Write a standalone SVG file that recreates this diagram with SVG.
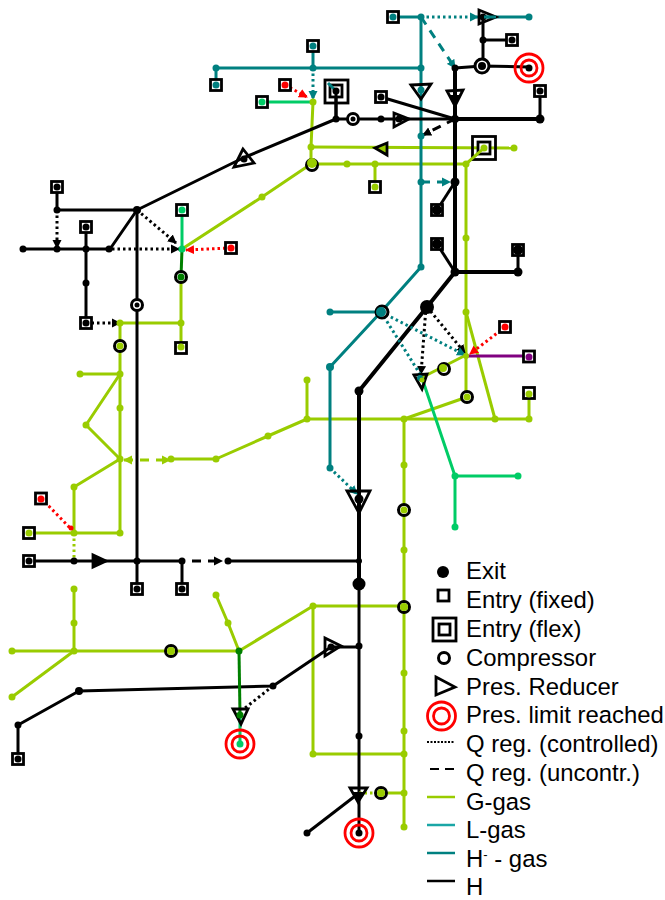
<svg xmlns="http://www.w3.org/2000/svg" width="665" height="900" viewBox="0 0 665 900">
<style>
text{font-family:"Liberation Sans",Arial,sans-serif;font-size:23.9px;fill:#000}
.c{fill:none;stroke-linecap:butt;stroke-linejoin:round}
.g{stroke:#99cc00;stroke-width:3}
.t{stroke:#008080;stroke-width:3}
.e{stroke:#00cc66;stroke-width:3}
.k{stroke:#000;stroke-width:3}
.K{stroke:#000;stroke-width:4}
.d{stroke-width:3;stroke-dasharray:2.5 3}
.s{stroke-width:3;stroke-dasharray:9 7}
.ent{fill:#fff;stroke:#000;stroke-width:2.8}
.cmp{fill:#fff;stroke:#000;stroke-width:3}
.red{fill:none;stroke:#ff0000;stroke-width:2.8}
.tri{fill:none;stroke:#000;stroke-width:2.8;stroke-linejoin:miter}
.nk{fill:#000}.ng{fill:#99cc00}.nt{fill:#008080}.ne{fill:#00cc66}.nr{fill:#ff0000}.nd{fill:#008000}.np{fill:#800080}
</style>
<defs>
<marker id="ak" markerUnits="userSpaceOnUse" markerWidth="10" markerHeight="10" refX="8" refY="5" orient="auto"><path d="M0 0.5L9 5L0 9.5z" fill="#000"/></marker>
<marker id="at" markerUnits="userSpaceOnUse" markerWidth="10" markerHeight="10" refX="8" refY="5" orient="auto"><path d="M0 0.5L9 5L0 9.5z" fill="#008080"/></marker>
<marker id="ar" markerUnits="userSpaceOnUse" markerWidth="10" markerHeight="10" refX="8" refY="5" orient="auto"><path d="M0 0.5L9 5L0 9.5z" fill="#ff0000"/></marker>
<marker id="ag" markerUnits="userSpaceOnUse" markerWidth="10" markerHeight="10" refX="8" refY="5" orient="auto-start-reverse"><path d="M0 0.5L9 5L0 9.5z" fill="#99cc00"/></marker>
</defs>
<g id="connectors">
<g class="c g">
<path d="M313 102L311 147V164"/><path d="M311 147L514 148"/><path d="M311 164H466"/><path d="M375 164V187"/><path d="M466 164L484 148"/>
<path d="M466 164V397"/><path d="M467 397L404 419"/><path d="M466 312L495 419"/><path d="M307 380V419H529V393"/><path d="M307 419L268 436L216 459H171"/>
<path d="M404 419V827"/><path d="M181 277V348"/><path d="M120 323H181"/><path d="M182 249L262 197L311 164"/>
<path d="M120 323V533"/><path d="M80 374H120"/><path d="M120 374L86 425L120 459"/><path d="M120 459L74 487V533"/><path d="M29 533H120"/>
<path d="M74 589V651"/><path d="M12 651H239"/><path d="M74 651L12 697"/><path d="M216 595L228 623L239 651"/><path d="M239 651L313 606H404"/><path d="M313 606V754H404"/>
<path d="M381 793H404"/><path d="M421 378L466 355"/>
</g>
<g class="c t">
<path d="M216 85V68H421"/><path d="M313 46V68"/><path d="M393 17H421"/><path d="M421 17V267L381 312L330 367V468"/><path d="M330 312H381"/><path d="M483 17H529"/>
</g>
<g class="c e">
<path d="M262 102H313"/><path d="M182 210V249"/><path d="M422 378L455 476H518"/><path d="M455 476V527"/><path d="M240 715V744"/>
</g>
<g class="c k">
<path d="M137 210L243 158L336 119"/><path d="M336 91V119H455"/><path d="M57 187V210H137"/><path d="M137 210V561"/><path d="M23 249H110L137 210"/><path d="M86 227V323"/>
<path d="M29 561H182"/><path d="M228 561H359"/><path d="M137 561V589"/><path d="M182 561V589"/>
<path d="M18 759V725L79 691L273 686L331 647H359"/><path d="M359 584V833"/><path d="M359 793L307 833"/>
<path d="M483 17V66"/><path d="M483 40H512"/><path d="M455 68L482 66L529 67"/><path d="M381 97L455 119"/><path d="M455 182L437 210"/><path d="M437 244L455 272"/><path d="M518 272V250"/><path d="M540 119V91"/>
</g>
<g class="c K">
<path d="M455 68V119H540"/><path d="M455 119V272H518"/><path d="M455 272L427 307L359 391V584"/>
</g>
<path class="c" d="M182 249L181 277" stroke="#008000" stroke-width="3"/>
<path class="c" d="M239 651L240 715" stroke="#008000" stroke-width="3"/>
<path class="c" d="M466 356H529" stroke="#800080" stroke-width="3"/>
<g class="c d" stroke="#000">
<path d="M57 210V248" marker-end="url(#ak)"/><path d="M112 249H179" marker-end="url(#ak)"/><path d="M137 210L176 243" marker-end="url(#ak)"/><path d="M86 323H120" marker-end="url(#ak)"/>
<path d="M427 307L465 353" marker-end="url(#ak)"/><path d="M426 307L421 374" marker-end="url(#ak)"/><path d="M273 686L245 708"/>
</g>
<g class="c d" stroke="#008080">
<path d="M313 68V99" marker-end="url(#at)"/><path d="M421 17H478" marker-end="url(#at)"/><path d="M381 312L465 355" marker-end="url(#at)"/><path d="M381 312L420 374"/><path d="M330 468L357 494" marker-end="url(#at)"/>
</g>
<g class="c d" stroke="#ff0000">
<path d="M285 85L307 97" marker-end="url(#ar)"/><path d="M231 248L186 250" marker-end="url(#ar)"/><path d="M505 327L470 354" marker-end="url(#ar)"/><path d="M41 498L71 529"/>
</g>
<path class="c d" stroke="#99cc00" d="M74 533V561"/>
<path class="c d" stroke="#99cc00" d="M359 793H381"/>
<path class="c s" stroke="#008080" d="M421 17L455 68" marker-end="url(#at)"/>
<path class="c s" stroke="#008080" d="M421 182H450" marker-end="url(#at)"/>
<path class="c s" stroke="#000" d="M455 119L423 135" marker-end="url(#ak)"/>
<path class="c s" stroke="#000" d="M192 561H222" marker-end="url(#ak)"/>
<path class="c s" stroke="#99cc00" d="M124 460H170" marker-start="url(#ag)" marker-end="url(#ag)"/>
</g>
<g id="junctions">
<g class="nk">
<circle cx="137" cy="210" r="4"/><circle cx="57" cy="210" r="3.5"/><circle cx="57" cy="249" r="3.5"/><circle cx="86" cy="249" r="3.5"/><circle cx="109" cy="249" r="3.5"/><circle cx="23" cy="249" r="3.5"/><circle cx="86" cy="283" r="3.5"/>
<circle cx="336" cy="119" r="3.5"/><circle cx="381" cy="119" r="3.5"/><circle cx="455" cy="119" r="4"/><circle cx="540" cy="119" r="4.5"/><circle cx="455" cy="68" r="3.5"/><circle cx="483" cy="40" r="3.5"/>
<circle cx="455" cy="182" r="4.5"/><circle cx="455" cy="272" r="4.5"/><circle cx="518" cy="272" r="4.5"/><circle cx="427" cy="307" r="7"/><circle cx="359" cy="391" r="4.5"/><circle cx="359" cy="584" r="6.5"/>
<circle cx="74" cy="561" r="3.5"/><circle cx="137" cy="561" r="3.5"/><circle cx="182" cy="561" r="3.5"/><circle cx="228" cy="561" r="3.5"/><circle cx="359" cy="561" r="3"/>
<circle cx="359" cy="646" r="3.5"/><circle cx="359" cy="736" r="3.5"/><circle cx="273" cy="686" r="3.5"/><circle cx="79" cy="691" r="4"/><circle cx="18" cy="725" r="3.5"/><circle cx="307" cy="833" r="3.5"/>
</g>
<g class="ng">
<circle cx="313" cy="102" r="3.5"/><circle cx="311" cy="147" r="3.5"/><circle cx="262" cy="197" r="3.5"/><circle cx="347" cy="164" r="3.5"/><circle cx="375" cy="164" r="3.5"/><circle cx="466" cy="164" r="3.5"/><circle cx="514" cy="148" r="3.5"/><circle cx="466" cy="238" r="3.5"/><circle cx="466" cy="312" r="3.5"/><circle cx="466" cy="356" r="3"/>
<circle cx="120" cy="323" r="3.5"/><circle cx="181" cy="323" r="3.5"/><circle cx="120" cy="374" r="3.5"/><circle cx="80" cy="374" r="3.5"/><circle cx="120" cy="408" r="3.5"/><circle cx="86" cy="425" r="3.5"/><circle cx="120" cy="459" r="3.5"/><circle cx="74" cy="487" r="3.5"/><circle cx="74" cy="533" r="3.5"/><circle cx="120" cy="533" r="3.5"/>
<circle cx="171" cy="459" r="3.5"/><circle cx="216" cy="459" r="3.5"/><circle cx="268" cy="436" r="3.5"/><circle cx="307" cy="380" r="3.5"/><circle cx="307" cy="419" r="3.5"/><circle cx="404" cy="419" r="3.5"/><circle cx="495" cy="419" r="3.5"/><circle cx="529" cy="419" r="3.5"/><circle cx="404" cy="465" r="3.5"/><circle cx="404" cy="550" r="3.5"/>
<circle cx="74" cy="589" r="3.5"/><circle cx="74" cy="623" r="3.5"/><circle cx="74" cy="651" r="3.5"/><circle cx="12" cy="651" r="3.5"/><circle cx="12" cy="697" r="3.5"/><circle cx="216" cy="595" r="3.5"/><circle cx="228" cy="623" r="3.5"/><circle cx="313" cy="606" r="3.5"/><circle cx="313" cy="754" r="3.5"/>
<circle cx="404" cy="673" r="3.5"/><circle cx="404" cy="731" r="3.5"/><circle cx="404" cy="754" r="3.5"/><circle cx="404" cy="793" r="3.5"/><circle cx="404" cy="827" r="3.5"/>
</g>
<g class="nt">
<circle cx="216" cy="68" r="3.5"/><circle cx="313" cy="68" r="3.5"/><circle cx="421" cy="17" r="3.5"/><circle cx="421" cy="68" r="3.5"/><circle cx="529" cy="17" r="3.5"/><circle cx="421" cy="136" r="3.5"/><circle cx="421" cy="182" r="3.5"/><circle cx="421" cy="267" r="3.5"/><circle cx="330" cy="312" r="3.5"/><circle cx="330" cy="367" r="4"/><circle cx="330" cy="468" r="3.5"/>
</g>
<g class="ne">
<circle cx="182" cy="249" r="3.5"/><circle cx="455" cy="476" r="3.5"/><circle cx="518" cy="476" r="3.5"/><circle cx="455" cy="527" r="3.5"/>
</g>
<circle class="nd" cx="239" cy="651" r="3.5"/>
<circle class="nr" cx="71" cy="528" r="2.5"/>
</g>
<g id="entry-1"><rect class="ent" x="307.500" y="40.500" width="11" height="11"/><circle class="nt" cx="313" cy="46" r="3.500"/></g>
<g id="entry-2"><rect class="ent" x="210.500" y="79.500" width="11" height="11"/><circle class="nt" cx="216" cy="85" r="3.500"/></g>
<g id="entry-3"><rect class="ent" x="279.500" y="79.500" width="11" height="11"/><circle class="nr" cx="285" cy="85" r="3.500"/></g>
<g id="entry-4"><rect class="ent" x="256.500" y="96.500" width="11" height="11"/><circle class="ne" cx="262" cy="102" r="3.500"/></g>
<g id="entry-5"><rect class="ent" x="387.500" y="11.500" width="11" height="11"/><circle class="nt" cx="393" cy="17" r="3.500"/></g>
<g id="entry-6"><rect class="ent" x="506.500" y="34.500" width="11" height="11"/><circle class="nk" cx="512" cy="40" r="3.500"/></g>
<g id="entry-7"><rect class="ent" x="534.500" y="85.500" width="11" height="11"/><circle class="nk" cx="540" cy="91" r="3.500"/></g>
<g id="entry-8"><rect class="ent" x="375.500" y="91.500" width="11" height="11"/><circle class="nk" cx="381" cy="97" r="3.500"/></g>
<g id="entry-9"><rect class="ent" x="369.500" y="181.500" width="11" height="11"/><circle class="ng" cx="375" cy="187" r="3.500"/></g>
<g id="entry-10"><rect class="ent" x="431.500" y="204.500" width="11" height="11"/><circle class="nk" cx="437" cy="210" r="5"/></g>
<g id="entry-11"><rect class="ent" x="431.500" y="238.500" width="11" height="11"/><circle class="nk" cx="437" cy="244" r="5"/></g>
<g id="entry-12"><rect class="ent" x="512.500" y="244.500" width="11" height="11"/><circle class="nk" cx="518" cy="250" r="5"/></g>
<g id="entry-13"><rect class="ent" x="51.500" y="181.500" width="11" height="11"/><circle class="nk" cx="57" cy="187" r="3.500"/></g>
<g id="entry-14"><rect class="ent" x="80.500" y="221.500" width="11" height="11"/><circle class="nk" cx="86" cy="227" r="3.500"/></g>
<g id="entry-15"><rect class="ent" x="176.500" y="204.500" width="11" height="11"/><circle class="ne" cx="182" cy="210" r="3.500"/></g>
<g id="entry-16"><rect class="ent" x="225.500" y="242.500" width="11" height="11"/><circle class="nr" cx="231" cy="248" r="3.500"/></g>
<g id="entry-17"><rect class="ent" x="80.500" y="317.500" width="11" height="11"/><circle class="nk" cx="86" cy="323" r="3.500"/></g>
<g id="entry-18"><rect class="ent" x="175.500" y="342.500" width="11" height="11"/><circle class="ng" cx="181" cy="347" r="3.500"/></g>
<g id="entry-19"><rect class="ent" x="499.500" y="321.500" width="11" height="11"/><circle class="nr" cx="505" cy="327" r="3.500"/></g>
<g id="entry-20"><rect class="ent" x="523.500" y="351" width="11" height="11"/><circle class="np" cx="529" cy="357" r="3.500"/></g>
<g id="entry-21"><rect class="ent" x="523.500" y="387.500" width="11" height="11"/><circle class="ng" cx="529" cy="394" r="3.500"/></g>
<g id="entry-22"><rect class="ent" x="35.500" y="493" width="11" height="11"/><circle class="nr" cx="41" cy="499" r="3.500"/></g>
<g id="entry-23"><rect class="ent" x="23.500" y="527.500" width="11" height="11"/><circle class="ng" cx="29" cy="533" r="3.500"/></g>
<g id="entry-24"><rect class="ent" x="23.500" y="555.500" width="11" height="11"/><circle class="nk" cx="29" cy="561" r="3.500"/></g>
<g id="entry-25"><rect class="ent" x="131.500" y="583.500" width="11" height="11"/><circle class="nk" cx="137" cy="589" r="3.500"/></g>
<g id="entry-26"><rect class="ent" x="176.500" y="583.500" width="11" height="11"/><circle class="nk" cx="182" cy="589" r="3.500"/></g>
<g id="entry-27"><rect class="ent" x="12.500" y="753.500" width="11" height="11"/><circle class="nk" cx="18" cy="759" r="3.500"/></g>
<g id="flex-1"><rect class="ent" x="325" y="80" width="23" height="23" style="fill:none"/><rect class="ent" x="330" y="85" width="12" height="12"/><path class="c" d="M336 91V119" stroke="#000" stroke-width="3"/><path class="c t" d="M328 83L336 91"/><circle class="nk" cx="336" cy="91" r="3.500"/></g>
<g id="flex-2"><rect class="ent" x="472.500" y="136.500" width="23" height="23" style="fill:none"/><rect class="ent" x="478" y="142" width="12" height="12"/><path class="c g" d="M466 164L484 148"/><circle class="ng" cx="484" cy="148" r="3.500"/></g>
<g id="comp-1"><circle class="cmp" cx="353" cy="119" r="5.500"/><circle class="nk" cx="353" cy="119" r="2.500"/></g>
<g id="comp-2"><circle class="cmp" cx="482" cy="66" r="7"/><circle class="nk" cx="482" cy="66" r="4"/></g>
<g id="comp-3"><circle class="cmp" cx="312" cy="165" r="5.500"/><circle class="ng" cx="312" cy="163" r="5"/></g>
<g id="comp-4"><circle class="cmp" cx="181" cy="277" r="5.500"/><circle class="nd" cx="181" cy="277" r="3.500"/></g>
<g id="comp-5"><circle class="cmp" cx="137" cy="305" r="5.500"/><circle class="nk" cx="137" cy="305" r="2.500"/></g>
<g id="comp-6"><circle class="cmp" cx="120" cy="346" r="5.500"/><circle class="ng" cx="120" cy="346" r="3.500"/></g>
<g id="comp-7"><circle class="cmp" cx="382" cy="312" r="6"/><circle class="nt" cx="381" cy="312" r="5"/></g>
<g id="comp-8"><circle class="cmp" cx="444" cy="369" r="5.500"/><circle class="ng" cx="443" cy="368" r="4"/></g>
<g id="comp-9"><circle class="cmp" cx="467" cy="397" r="5.500"/><circle class="ng" cx="467" cy="397" r="3.500"/></g>
<g id="comp-10"><circle class="cmp" cx="404" cy="510" r="5.500"/><circle class="ng" cx="404" cy="510" r="3.500"/></g>
<g id="comp-11"><circle class="cmp" cx="404" cy="607" r="5.500"/><circle class="ng" cx="404" cy="607" r="4"/></g>
<g id="comp-12"><circle class="cmp" cx="171" cy="651" r="5.500"/><circle class="ng" cx="171" cy="651" r="4"/></g>
<g id="comp-13"><circle class="cmp" cx="381" cy="793" r="5.500"/><circle class="ng" cx="381" cy="793" r="4"/></g>
<g id="red-1"><circle class="red" cx="529" cy="68" r="14"/><circle class="red" cx="529" cy="68" r="8"/><circle class="nk" cx="529" cy="68" r="3.500"/></g>
<g id="red-2"><circle class="red" cx="240" cy="744" r="14"/><circle class="red" cx="240" cy="744" r="8"/><circle class="ne" cx="240" cy="744" r="3.500"/></g>
<g id="red-3"><circle class="red" cx="359" cy="833" r="14"/><circle class="red" cx="359" cy="833" r="8"/><circle class="nk" cx="359" cy="833" r="3.500"/></g>
<g id="redu-1"><polygon class="tri" points="243,149 234,167 254,163"/><circle class="nk" cx="244" cy="159" r="3.500"/></g>
<g id="redu-2"><polygon class="tri" points="411,85 431,84 421,99"/><circle class="nt" cx="421" cy="90" r="3.500"/></g>
<g id="redu-3"><polygon class="tri" points="447,91 463,90 455,106"/><polygon class="nk" points="449,95 461,95 455,106"/></g>
<g id="redu-4"><polygon class="tri" points="479,10 479,24 496,17"/><circle class="nk" cx="483" cy="17" r="3.500"/><path class="c t" d="M484 17H496"/></g>
<g id="redu-5"><polygon class="tri" points="394,113 394,127 409,119"/><circle class="nk" cx="399" cy="119" r="3.500"/></g>
<g id="redu-6"><polygon class="tri" points="387,143 387,155 375,148" style="fill:#99cc00"/></g>
<g id="redu-7"><polygon class="tri" points="414,375 427,374 422,389"/><circle class="nt" cx="420" cy="378" r="3"/><circle class="ng" cx="422" cy="380" r="2.500"/></g>
<g id="redu-8"><polygon class="tri" points="347,491 370,491 359,513"/><circle class="nk" cx="359" cy="499" r="4.500"/></g>
<g id="redu-9"><polygon class="tri" points="93,555 93,567 106,561" style="fill:#000"/></g>
<g id="redu-10"><polygon class="tri" points="325,638 325,656 341,646"/><circle class="nk" cx="331" cy="647" r="3.500"/></g>
<g id="redu-11"><polygon class="tri" points="233,709 248,709 241,724"/><circle class="nd" cx="240" cy="715" r="3.500"/></g>
<g id="redu-12"><polygon class="tri" points="350,788 367,788 358,802"/><polygon class="nk" points="353,792 364,792 358,802"/></g>
<g id="legend">
<circle class="nk" cx="443" cy="572" r="6"/>
<rect class="ent" x="438" y="590" width="11" height="11"/>
<rect class="ent" x="433" y="618" width="23" height="23" style="fill:none"/><rect class="ent" x="439" y="624" width="11" height="11"/>
<circle class="cmp" cx="444" cy="658" r="5.500"/>
<polygon class="tri" points="436,677 455,687 436,695"/>
<circle class="red" cx="441.500" cy="716" r="14"/><circle class="red" cx="441.500" cy="716" r="8"/>
<path d="M427 742H455" stroke="#000" stroke-width="2" stroke-dasharray="2 1.500"/>
<path d="M430 769H455" stroke="#000" stroke-width="2" stroke-dasharray="9 6"/>
<path d="M427 797H455" stroke="#99cc00" stroke-width="2.500"/>
<path d="M427 825H455" stroke="#1aa6a6" stroke-width="2.500"/>
<path d="M427 853H455" stroke="#008080" stroke-width="2.500"/>
<path d="M427 881H455" stroke="#000" stroke-width="2.500"/>
<text x="466" y="579">Exit</text>
<text x="466" y="608">Entry (fixed)</text>
<text x="466" y="637">Entry (flex)</text>
<text x="466" y="666">Compressor</text>
<text x="466" y="695">Pres. Reducer</text>
<text x="466" y="723">Pres. limit reached</text>
<text x="466" y="752">Q reg. (controlled)</text>
<text x="466" y="781">Q reg. (uncontr.)</text>
<text x="466" y="810">G-gas</text>
<text x="466" y="838">L-gas</text>
<text x="466" y="867">H<tspan font-size="13" dy="-8">-</tspan><tspan dy="8"> - gas</tspan></text>
<text x="466" y="895">H</text>
</g>
</svg>
